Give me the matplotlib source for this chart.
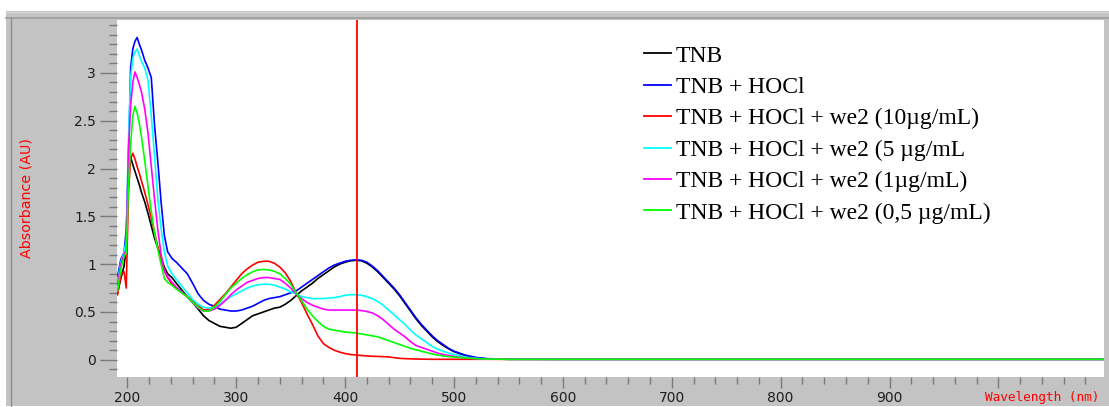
import matplotlib
matplotlib.use("Agg")
import matplotlib.pyplot as plt
from matplotlib.patches import Rectangle
from matplotlib.lines import Line2D
from matplotlib.ticker import MultipleLocator, FixedLocator

# ---- spectra (wavelength in nm, absorbance in AU) ----
wavelength = [191, 194, 197, 199, 201, 203, 205, 207, 209, 211, 213, 216, 219, 222,
              225, 228, 231, 234, 237, 241, 245, 250, 255, 260, 265, 270, 275, 280,
              285, 290, 295, 300, 305, 310, 315, 320, 325, 330, 335, 340, 345, 350,
              355, 360, 365, 370, 375, 380, 385, 390, 395, 400, 405, 410, 415, 420,
              425, 430, 435, 440, 445, 450, 455, 460, 465, 470, 475, 480, 485, 490,
              495, 500, 510, 520, 530, 550, 600, 700, 800, 900, 1000, 1097]

tnb = [0.70, 0.85, 0.98, 1.18, 2.05, 2.12, 2.04, 1.97, 1.90, 1.83, 1.75, 1.65, 1.53, 1.40,
       1.27, 1.17, 1.07, 0.97, 0.90, 0.86, 0.80, 0.73, 0.66, 0.60, 0.53, 0.46, 0.41, 0.38,
       0.35, 0.34, 0.33, 0.34, 0.38, 0.42, 0.46, 0.48, 0.50, 0.52, 0.54, 0.55, 0.58, 0.62,
       0.67, 0.72, 0.76, 0.80, 0.85, 0.89, 0.93, 0.97, 1.00, 1.02, 1.035, 1.04, 1.035, 1.01,
       0.97, 0.92, 0.86, 0.80, 0.74, 0.67, 0.59, 0.51, 0.43, 0.36, 0.30, 0.24, 0.19, 0.15,
       0.115, 0.085, 0.045, 0.02, 0.01, 0.005, 0.005, 0.005, 0.005, 0.005, 0.005, 0.005]

tnb_hocl = [0.87, 1.05, 1.12, 1.36, 2.05, 3.05, 3.25, 3.33, 3.37, 3.30, 3.24, 3.13, 3.05, 2.95,
            2.45, 2.07, 1.65, 1.30, 1.13, 1.06, 1.02, 0.96, 0.90, 0.80, 0.69, 0.62, 0.58, 0.56,
            0.53, 0.52, 0.51, 0.51, 0.52, 0.54, 0.56, 0.59, 0.62, 0.64, 0.65, 0.66, 0.68, 0.70,
            0.72, 0.76, 0.80, 0.84, 0.88, 0.92, 0.96, 0.99, 1.01, 1.03, 1.04, 1.045, 1.04, 1.02,
            0.98, 0.93, 0.87, 0.81, 0.75, 0.68, 0.60, 0.52, 0.44, 0.37, 0.31, 0.25, 0.20, 0.16,
            0.12, 0.09, 0.05, 0.025, 0.012, 0.006, 0.005, 0.005, 0.005, 0.005, 0.005, 0.005]

we2_10 = [0.68, 0.88, 0.92, 0.75, 1.75, 2.10, 2.16, 2.10, 2.02, 1.95, 1.87, 1.75, 1.62, 1.48,
          1.33, 1.18, 1.05, 0.93, 0.86, 0.79, 0.75, 0.70, 0.66, 0.62, 0.57, 0.52, 0.53, 0.57,
          0.63, 0.69, 0.76, 0.83, 0.90, 0.95, 0.99, 1.02, 1.03, 1.03, 1.01, 0.97, 0.91, 0.82,
          0.70, 0.60, 0.48, 0.37, 0.25, 0.17, 0.13, 0.10, 0.08, 0.065, 0.055, 0.05, 0.045, 0.04,
          0.037, 0.035, 0.033, 0.03, 0.022, 0.015, 0.012, 0.01, 0.008, 0.007, 0.006, 0.005, 0.005, 0.005,
          0.005, 0.005, 0.005, 0.005, 0.005, 0.005, 0.005, 0.005, 0.005, 0.005, 0.005, 0.005]

we2_5 = [0.82, 1.02, 1.12, 1.25, 2.30, 2.95, 3.15, 3.22, 3.25, 3.18, 3.12, 3.05, 2.92, 2.55,
         2.13, 1.68, 1.37, 1.13, 0.98, 0.90, 0.84, 0.77, 0.70, 0.63, 0.58, 0.55, 0.54, 0.55,
         0.58, 0.62, 0.66, 0.69, 0.72, 0.75, 0.77, 0.785, 0.79, 0.79, 0.78, 0.76, 0.74, 0.71,
         0.69, 0.66, 0.65, 0.64, 0.64, 0.64, 0.645, 0.65, 0.66, 0.675, 0.68, 0.68, 0.675, 0.66,
         0.64, 0.61, 0.57, 0.52, 0.47, 0.42, 0.37, 0.31, 0.26, 0.22, 0.18, 0.14, 0.11, 0.09,
         0.07, 0.055, 0.03, 0.015, 0.008, 0.006, 0.005, 0.005, 0.005, 0.005, 0.005, 0.005]

we2_1 = [0.78, 1.00, 1.10, 1.15, 2.20, 2.65, 2.90, 3.01, 2.95, 2.88, 2.80, 2.62, 2.37, 2.02,
         1.68, 1.36, 1.10, 0.93, 0.87, 0.81, 0.76, 0.71, 0.66, 0.60, 0.54, 0.51, 0.51, 0.53,
         0.57, 0.62, 0.68, 0.73, 0.77, 0.81, 0.83, 0.85, 0.86, 0.86, 0.85, 0.84, 0.80, 0.75,
         0.69, 0.64, 0.60, 0.57, 0.55, 0.53, 0.52, 0.52, 0.52, 0.52, 0.52, 0.52, 0.515, 0.505,
         0.49, 0.46, 0.42, 0.37, 0.32, 0.28, 0.24, 0.19, 0.15, 0.13, 0.11, 0.09, 0.07, 0.055,
         0.045, 0.035, 0.02, 0.012, 0.008, 0.006, 0.005, 0.005, 0.005, 0.005, 0.005, 0.005]

we2_05 = [0.72, 0.95, 1.08, 1.12, 1.81, 2.25, 2.55, 2.65, 2.58, 2.47, 2.33, 2.08, 1.81, 1.55,
          1.32, 1.15, 1.00, 0.85, 0.81, 0.78, 0.74, 0.70, 0.66, 0.60, 0.55, 0.51, 0.51, 0.55,
          0.61, 0.68, 0.75, 0.80, 0.85, 0.89, 0.92, 0.94, 0.945, 0.94, 0.925, 0.90, 0.85, 0.79,
          0.70, 0.62, 0.53, 0.46, 0.40, 0.35, 0.32, 0.31, 0.30, 0.29, 0.285, 0.28, 0.27, 0.26,
          0.25, 0.24, 0.22, 0.20, 0.18, 0.16, 0.14, 0.12, 0.105, 0.09, 0.075, 0.06, 0.05, 0.04,
          0.033, 0.028, 0.02, 0.012, 0.008, 0.005, 0.005, 0.005, 0.005, 0.005, 0.005, 0.005]

series_labels = ["TNB",
                 "TNB + HOCl",
                 "TNB + HOCl + we2 (10\u00b5g/mL)",
                 "TNB + HOCl + we2 (5 \u00b5g/mL",
                 "TNB + HOCl + we2 (1\u00b5g/mL)",
                 "TNB + HOCl + we2 (0,5 \u00b5g/mL)"]
series_colors = ["#000000", "#0000ff", "#ff0000", "#00ffff", "#ff00ff", "#00ff00"]
series_values = [tnb, tnb_hocl, we2_10, we2_5, we2_1, we2_05]

cursor_nm = 411
y_ticks = [0, 0.5, 1, 1.5, 2, 2.5, 3]
y_tick_labels = ["0", "0.5", "1", "1.5", "2", "2.5", "3"]
x_ticks = [200, 300, 400, 500, 600, 700, 800, 900, 1000]
x_tick_labels = ["200", "300", "400", "500", "600", "700", "800", "900", ""]

# ---- figure ----
W, H = 1109, 407
fig = plt.figure(figsize=(W / 100, H / 100), dpi=100)
fig.patch.set_facecolor("white")

def px_rect(x0, y0, x1, y1, color):
    """Rectangle in pixel coordinates measured from the top-left corner."""
    fig.add_artist(Rectangle((x0 / W, 1 - y1 / H), (x1 - x0) / W, (y1 - y0) / H,
                             transform=fig.transFigure, facecolor=color,
                             edgecolor="none", zorder=-10))

def px_line(x0, y0, x1, y1, color, lw=1.0):
    fig.add_artist(Line2D([x0 / W, x1 / W], [1 - y0 / H, 1 - y1 / H],
                          transform=fig.transFigure, color=color, lw=lw, zorder=-9))

# grey instrument panel behind the plot area
px_rect(6, 11, 1109, 406, "#c3c3c3")
px_line(6, 17.5, 1109, 17.5, "#9c9c9c", 1.2)
px_line(10.5, 17.5, 10.5, 406, "#8e8e8e", 1.0)
px_line(6, 12, 1109, 12, "#d6d6d6", 1.0)

ax = fig.add_axes([117 / W, 1 - 377 / H, (1104 - 117) / W, (377 - 20) / H])
ax.set_zorder(1)
ax.set_facecolor("white")
for s in ax.spines.values():
    s.set_visible(False)

# pale highlight between the TNB and TNB + HOCl traces on the rising flank of the 410 nm band
band = [365 <= w <= 405 for w in wavelength]
ax.fill_between(wavelength, tnb, tnb_hocl, where=band, color="#f4efb4", lw=0, zorder=1)

handles = []
for vals, col, lab in zip(series_values, series_colors, series_labels):
    h, = ax.plot(wavelength, vals, color=col, lw=1.2, label=lab, zorder=2)
    handles.append(h)

ax.axvline(cursor_nm, color="#ff0000", lw=1.3, zorder=5)

ax.set_xlim(190.5, 1097)
ax.set_ylim(-0.18, 3.553)

ax.yaxis.set_major_locator(FixedLocator(y_ticks))
ax.set_yticklabels(y_tick_labels)
ax.yaxis.set_minor_locator(FixedLocator([i / 10 for i in range(-1, 36)]))
ax.xaxis.set_major_locator(FixedLocator(x_ticks))
ax.set_xticklabels(x_tick_labels)
ax.xaxis.set_minor_locator(MultipleLocator(20))

tick_col = "#7a7a7a"
ax.tick_params(axis="y", which="major", length=12, width=1, color=tick_col,
               labelsize=10, labelcolor="#1e1e1e", pad=3)
ax.tick_params(axis="y", which="minor", length=6, width=1, color=tick_col)
ax.tick_params(axis="x", which="major", length=8, width=1, color=tick_col,
               labelsize=10, labelcolor="#1e1e1e", pad=2)
ax.tick_params(axis="x", which="minor", length=5, width=1, color=tick_col)
for lab in ax.get_xticklabels() + ax.get_yticklabels():
    lab.set_fontfamily("DejaVu Sans")

fig.text(27 / W, 1 - 197.5 / H, "Absorbance (AU)", rotation=90, color="#ff0000",
         fontsize=10.3, family="DejaVu Sans", ha="center", va="center")
fig.text(985 / W, 1 - 397 / H, "Wavelength (nm)", color="#ff0000",
         fontsize=9.2, family="DejaVu Sans Mono", ha="left", va="center")

leg = ax.legend(handles=handles, labels=series_labels, loc="upper left",
                bbox_to_anchor=(644 / W, 1 - 45 / H), bbox_transform=fig.transFigure,
                frameon=False, prop={"family": "Liberation Serif", "size": 17},
                handlelength=1.14, handletextpad=0.21, labelspacing=0.42,
                borderpad=0, borderaxespad=0)
for ln in leg.get_lines():
    ln.set_linewidth(1.3)

fig.savefig("out.png", dpi=100, facecolor=fig.get_facecolor())
